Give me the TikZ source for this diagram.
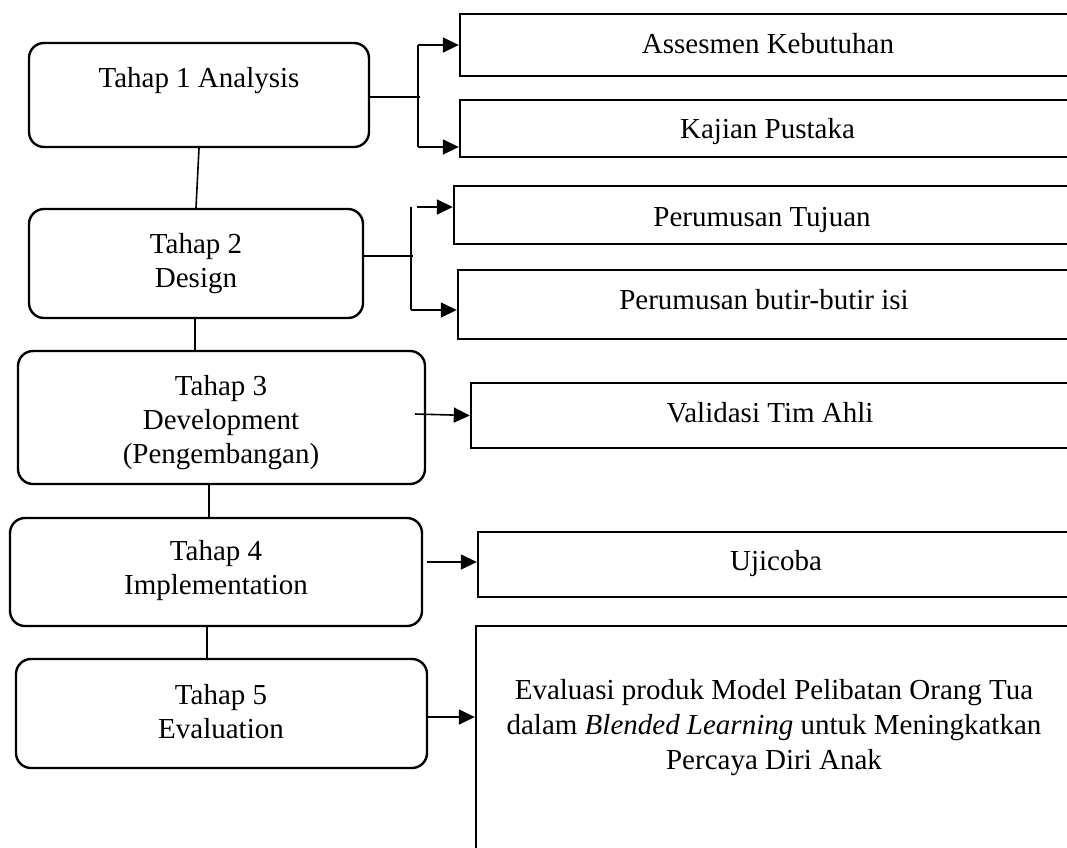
\documentclass[tikz,border=0pt]{standalone}
\usepackage{fontspec}
\setmainfont{Liberation Serif}
\usetikzlibrary{arrows.meta}
\begin{document}
\begin{tikzpicture}[x=1pt,y=-1pt,
  stage/.style={draw,line width=2.4pt,rounded corners=15pt,inner sep=0pt},
  outbox/.style={draw,line width=2.4pt,inner sep=0pt},
  txt/.style={inner sep=0pt,anchor=base,align=center,font=\fontsize{29}{34}\selectfont},
  conn/.style={line width=1.6pt},
  arr/.style={line width=1.6pt,-{Triangle[length=16pt,width=15pt]}}]
\useasboundingbox (0,0) rectangle (1067,847);
\clip (0,0) rectangle (1067,847);
% stage boxes
\node[stage,minimum width=340pt,minimum height=104pt] (b1) at (199,95) {};
\node[stage,minimum width=334pt,minimum height=109pt] (b2) at (196,263.5) {};
\node[stage,minimum width=407pt,minimum height=133pt] (b3) at (221.5,417.5) {};
\node[stage,minimum width=412pt,minimum height=108pt] (b4) at (216,572) {};
\node[stage,minimum width=411pt,minimum height=109pt] (b5) at (221.5,713.5) {};
% output boxes (right side cut off)
\node[outbox,minimum width=620pt,minimum height=62pt] (a1) at (770,45) {};
\node[outbox,minimum width=620pt,minimum height=57pt] (a2) at (770,128.5) {};
\node[outbox,minimum width=626pt,minimum height=58pt] (p1) at (767,215) {};
\node[outbox,minimum width=622pt,minimum height=69pt] (p2) at (769,304.5) {};
\node[outbox,minimum width=609pt,minimum height=65pt] (v1) at (775.5,415.5) {};
\node[outbox,minimum width=602pt,minimum height=65pt] (u1) at (779,564.5) {};
\node[outbox,minimum width=604pt,minimum height=274pt] (e1) at (778,763) {};
% texts (base anchor = baseline of last line)
\node[txt] (t1) at (199,87) {Tahap 1 Analysis};
\node[txt] (t2) at (196,287) {Tahap 2\\Design};
\node[txt] (t3) at (221,463) {Tahap 3\\Development\\(Pengembangan)};
\node[txt] (t4) at (216,594) {Tahap 4\\Implementation};
\node[txt] (t5) at (221,738) {Tahap 5\\Evaluation};
\node[txt] (ta1) at (768,53) {Assesmen Kebutuhan};
\node[txt] (ta2) at (767.5,138) {Kajian Pustaka};
\node[txt] (tp1) at (762,226) {Perumusan Tujuan};
\node[txt] (tp2) at (764,309) {Perumusan butir-butir isi};
\node[txt] (tv) at (770,422) {Validasi Tim Ahli};
\node[txt] (tu) at (776,570) {Ujicoba};
\node[txt,font=\fontsize{29}{35}\selectfont] (te) at (774,769) {Evaluasi produk Model Pelibatan Orang Tua\\dalam \textit{Blended Learning} untuk Meningkatkan\\Percaya Diri Anak};
% vertical chain
\draw[conn] (b1.south) -- (b2.north);
\draw[conn] ([xshift=-1pt]b2.south) -- ([xshift=-26.5pt]b3.north);
\draw[conn] ([xshift=-12.5pt]b3.south) -- ([xshift=-7pt]b4.north);
\draw[conn] ([xshift=-9pt]b4.south) -- ([xshift=-14.5pt]b5.north);
% stage 1 branch
\coordinate (h1) at (420,97);
\coordinate (v1t) at (418,45);
\coordinate (v1b) at (418,147);
\draw[conn] (b1.east |- h1) -- (h1);
\draw[conn] (v1t) -- (v1b);
\draw[arr] (v1t) -- (v1t -| a1.west);
\draw[arr] (v1b) -- (v1b -| a2.west);
% stage 2 branch
\coordinate (h2) at (413,256);
\coordinate (v2t) at (411,207);
\coordinate (v2b) at (411,310);
\coordinate (s2t) at (417,207);
\draw[conn] (b2.east |- h2) -- (h2);
\draw[conn] (v2t) -- (v2b);
\draw[arr] (s2t) -- (s2t -| p1.west);
\draw[arr] (v2b) -- (v2b -| p2.west);
% stage 3,4,5 arrows
\coordinate (s3) at (415,414);
\draw[arr] (s3) -- (v1.west);
\coordinate (s4) at (427,562);
\draw[arr] (s4) -- (s4 -| u1.west);
\coordinate (s5) at (427,717);
\draw[arr] (s5) -- (s5 -| e1.west);
\end{tikzpicture}
\end{document}
